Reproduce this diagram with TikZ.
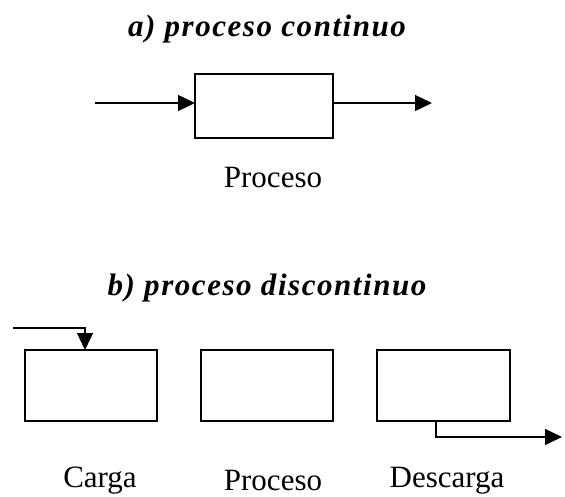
\documentclass[tikz,border=0pt]{standalone}
\usepackage{fontspec}
\setmainfont{Liberation Serif}
\newfontfamily\titlefont[LetterSpace=5]{Liberation Serif}
\usetikzlibrary{arrows.meta}
\tikzset{
  box/.style={draw, line width=1.2pt, fill=white, inner sep=0pt, outer sep=0pt},
  arr/.style={line width=1.3pt, -{Triangle[length=17pt,width=16pt]}},
  heading/.style={anchor=base, font=\titlefont\bfseries\itshape\fontsize{31}{35}\selectfont},
  caption/.style={anchor=base, font=\fontsize{31}{35}\selectfont}
}
\begin{document}
\begin{tikzpicture}[x=1pt,y=-1pt]
\useasboundingbox (0,0) rectangle (565,497);

% a) continuous process
\node[heading] (ta) at (267,37) {a) proceso continuo};
\node[box, minimum width=138pt, minimum height=64pt] (P) at (264,106) {};
\coordinate (ain) at (95,103);
\coordinate (aout) at (432,103);
\draw[arr] (ain) -- (ain -| P.west);
\draw[arr] (aout -| P.east) -- (aout);
\node[caption] (lp) at (273,188) {Proceso};

% b) batch process
\node[heading] (tb) at (267,295) {b) proceso discontinuo};
\node[box, minimum width=132pt, minimum height=71pt] (B1) at (91,385.5) {};
\node[box, minimum width=132pt, minimum height=71pt] (B2) at (267,385.5) {};
\node[box, minimum width=133pt, minimum height=71pt] (B3) at (443.5,385.5) {};

\coordinate (c0) at (13,328);
\coordinate (c1) at (85,328);
\draw[arr] (c0) -- (c1) -- (c1 |- B1.north);

\coordinate (d1) at (436,437);
\coordinate (d2) at (562,437);
\draw[arr] (d1 |- B3.south) -- (d1) -- (d2);

\node[caption] (lc) at (100,487) {Carga};
\node[caption] (lp2) at (273,490) {Proceso};
\node[caption] (ld) at (447,487) {Descarga};
\end{tikzpicture}
\end{document}
